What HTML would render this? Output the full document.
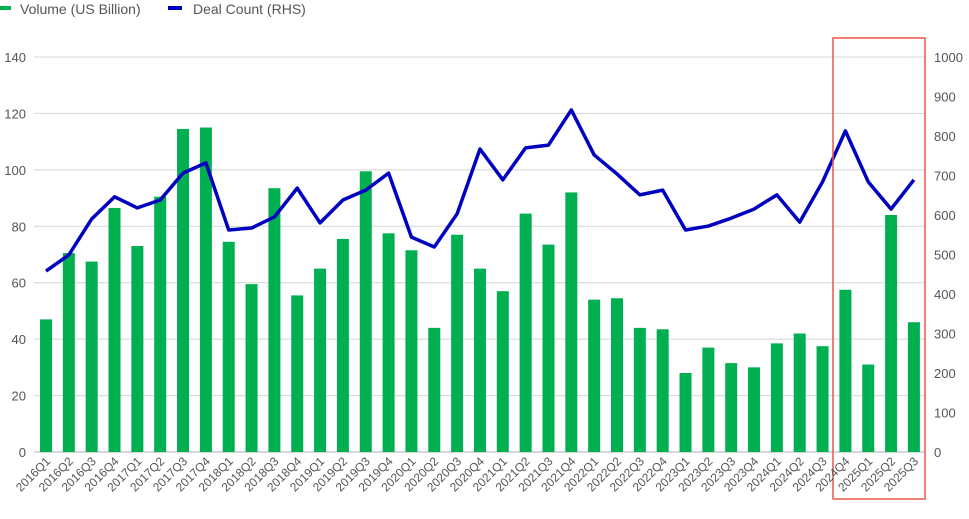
<!DOCTYPE html>
<html><head><meta charset="utf-8"><style>
body{margin:0;background:#fff}
svg text{font-family:"Liberation Sans",sans-serif;fill:#555;font-size:13px}
svg .xl{font-size:12px}
</style></head><body>
<svg width="969" height="514" viewBox="0 0 969 514" xmlns="http://www.w3.org/2000/svg">
<rect x="0" y="6" width="11" height="4" fill="#00b050"/>
<text x="20" y="14" style="font-size:14px">Volume (US Billion)</text>
<rect x="168" y="6" width="14" height="4" fill="#0000c0"/>
<text x="193" y="14" style="font-size:14px">Deal Count (RHS)</text>
<g id="grid"></g>
<g id="bars"></g>
<polyline id="line" fill="none" stroke="#0000c0" stroke-width="3.5" stroke-linejoin="round"/>
<rect x="833" y="38" width="92" height="461" fill="none" stroke="#e8574b" stroke-width="1.5"/>
<g id="labels"></g>
</svg>
<script>
const ns="http://www.w3.org/2000/svg";
function el(t,a,p,txt){const e=document.createElementNS(ns,t);for(const k in a)e.setAttribute(k,a[k]);if(txt!==undefined)e.textContent=txt;document.getElementById(p).appendChild(e);return e;}
const y0=452,ppu=395/140;
for(let v=0;v<=140;v+=20){const y=y0-v*ppu;
el('line',{x1:34,x2:925,y1:y,y2:y,stroke:v?'#d4d4d4':'#b0b0b8','stroke-width':1},'grid');
el('text',{x:26,y:y+5,'text-anchor':'end'},'grid',v);}
for(let v=0;v<=1000;v+=100){const y=y0-v*0.395;el('text',{x:934,y:y+5},'grid',v);}
const vol=[47,70.5,67.5,86.5,73,90.5,114.5,115,74.5,59.5,93.5,55.5,65,75.5,99.5,77.5,71.5,44,77,65,57,84.5,73.5,92,54,54.5,44,43.5,28,37,31.5,30,38.5,42,37.5,57.5,31,84,46];
const dc=[458,499,590,646,618,638,706,732,562,567,595,668,580,638,663,706,544,519,603,767,689,770,777,866,752,704,651,663,562,572,592,615,651,582,684,813,684,615,689];
let pts=[];
vol.forEach((v,i)=>{const cx=46+i*22.84;const h=v*ppu;
el('rect',{x:cx-6,y:y0-h,width:12,height:h,fill:'#00b050'},'bars');
pts.push(cx+','+(y0-dc[i]*0.395));
const yr=2016+Math.floor(i/4),q=i%4+1;
el('text',{class:'xl',x:cx+5,y:462,'text-anchor':'end',transform:`rotate(-45 ${cx+5} 462)`},'labels',yr+'Q'+q);});
document.getElementById('line').setAttribute('points',pts.join(' '));
</script>
</body></html>
